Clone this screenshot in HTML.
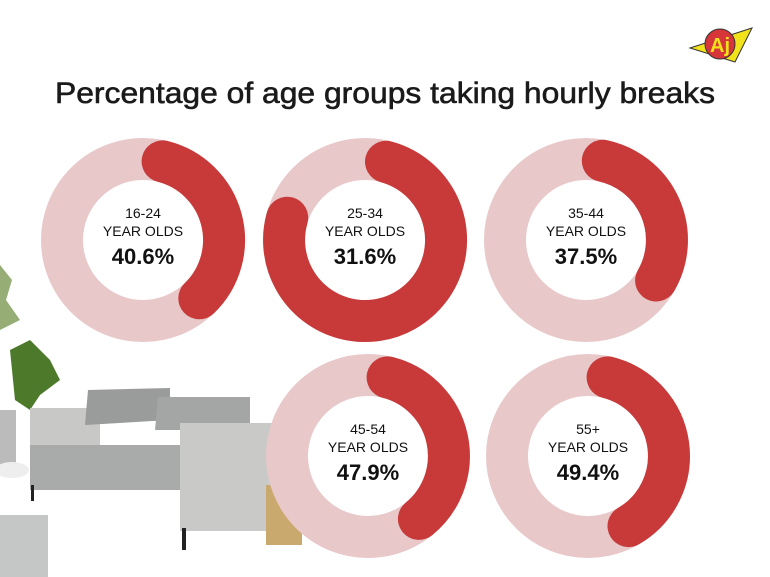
<!DOCTYPE html>
<html><head><meta charset="utf-8"><style>
html,body{margin:0;padding:0;background:#fff;}
svg{display:block;}
.t{font-family:"Liberation Sans Narrow","Liberation Sans",sans-serif;font-size:14px;fill:#111;text-anchor:middle;}
.p{font-family:"Liberation Sans",sans-serif;font-size:22px;font-weight:bold;fill:#111;text-anchor:middle;}
</style></head><body>
<svg width="770" height="577" viewBox="0 0 770 577" xmlns="http://www.w3.org/2000/svg">
<rect width="770" height="577" fill="#fff"/>
<!-- logo -->
<polygon points="690,48 752,28 735,62" fill="#f2e21a" stroke="#333" stroke-width="1"/>
<circle cx="720" cy="44" r="15" fill="#d6363a" stroke="#333" stroke-width="1"/>
<text x="720" y="52" font-family="Liberation Sans" font-weight="bold" font-size="20" fill="#f2e21a" text-anchor="middle">Aj</text>
<text x="55" y="103" font-family="Liberation Sans" font-size="30" fill="#1a1a1a" stroke="#1a1a1a" stroke-width="0.6" textLength="660" lengthAdjust="spacingAndGlyphs">Percentage of age groups taking hourly breaks</text>
<!-- sofa scene -->
<g>
<path d="M0,265 L12,280 L6,300 L20,320 L0,330Z" fill="#6a8a3a" opacity="0.7"/>
<path d="M10,350 L30,340 L50,360 L60,380 L40,395 L30,410 L15,400Z" fill="#4c7a2a"/>
<rect x="30" y="408" width="70" height="50" fill="#c8c8c6"/>
<path d="M88,390 L170,388 L170,420 L85,425Z" fill="#9a9b9b"/>
<path d="M158,397 L250,397 L250,430 L155,430Z" fill="#a4a5a5"/>
<rect x="30" y="445" width="150" height="45" fill="#a9aaaa"/>
<rect x="180" y="423" width="105" height="108" fill="#c9cac8"/>
<rect x="0" y="410" width="16" height="55" fill="#bbb"/>
<ellipse cx="12" cy="470" rx="17" ry="8" fill="#eee"/>
<rect x="0" y="515" width="48" height="62" fill="#c5c6c6"/>
<rect x="182" y="528" width="4" height="22" fill="#222"/>
<rect x="31" y="485" width="3" height="16" fill="#222"/>
<rect x="266" y="485" width="36" height="60" fill="#c9a96e"/>
</g>
<g fill="none" stroke-width="42">
<circle cx="143" cy="240" r="81" stroke="#e8c8c9"/>
<circle cx="365" cy="240" r="81" stroke="#e8c8c9"/>
<circle cx="586" cy="240" r="81" stroke="#e8c8c9"/>
<circle cx="368" cy="456" r="81" stroke="#e8c8c9"/>
<circle cx="588" cy="456" r="81" stroke="#e8c8c9"/>
</g>
<g fill="none" stroke="#c83a3a" stroke-width="42" stroke-linecap="round">
<path d="M162.6,161.4 A81,81 0 0 1 199.3,298.3"/>
<path d="M386,161.8 A81,81 0 1 1 287.2,217.7"/>
<path d="M602.8,160.8 A81,81 0 0 1 656.1,280.5"/>
<path d="M387.6,377.4 A81,81 0 0 1 418.9,518.9"/>
<path d="M607.6,377.4 A81,81 0 0 1 628.5,526.1"/>
</g>
<text class="t" x="143" y="218">16-24</text><text class="t" x="143" y="236">YEAR OLDS</text><text class="p" x="143" y="264">40.6%</text>
<text class="t" x="365" y="218">25-34</text><text class="t" x="365" y="236">YEAR OLDS</text><text class="p" x="365" y="264">31.6%</text>
<text class="t" x="586" y="218">35-44</text><text class="t" x="586" y="236">YEAR OLDS</text><text class="p" x="586" y="264">37.5%</text>
<text class="t" x="368" y="434">45-54</text><text class="t" x="368" y="452">YEAR OLDS</text><text class="p" x="368" y="480">47.9%</text>
<text class="t" x="588" y="434">55+</text><text class="t" x="588" y="452">YEAR OLDS</text><text class="p" x="588" y="480">49.4%</text>
</svg>
</body></html>
